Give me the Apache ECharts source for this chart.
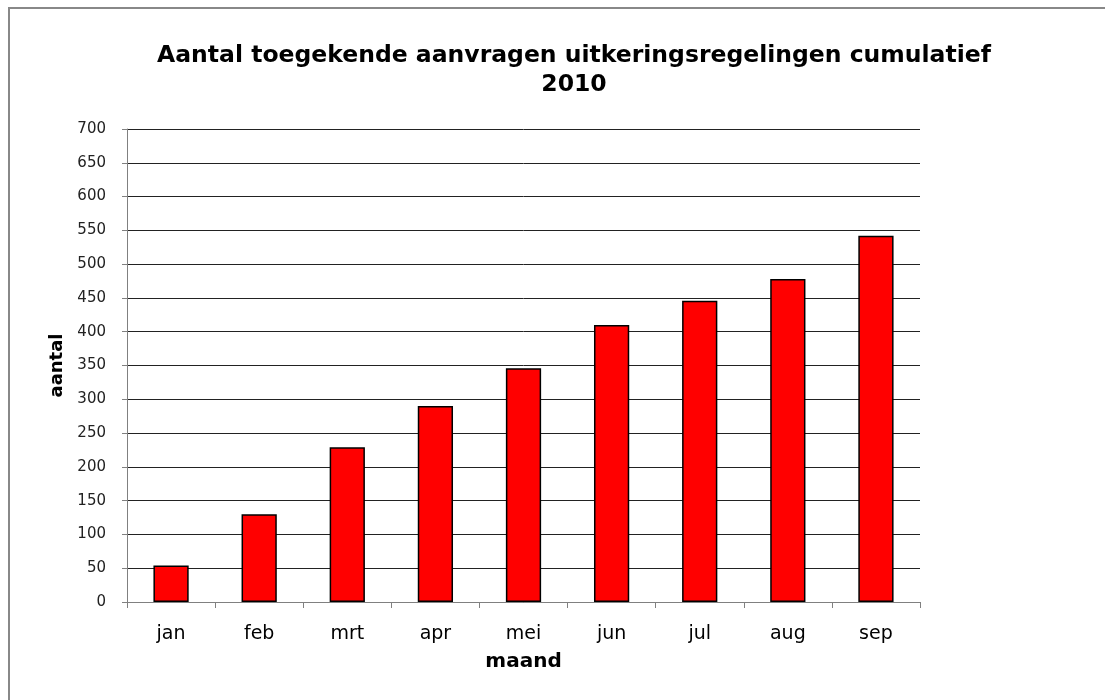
<!DOCTYPE html>
<html>
<head>
<meta charset="utf-8">
<script src="https://cdn.jsdelivr.net/npm/echarts@6/dist/echarts.min.js"></script>
<style>
html,body{margin:0;padding:0;background:#fff;}
#c{width:1105px;height:700px;}
</style>
</head>
<body>
<div id="c"></div>
<script>
const categories = ['jan','feb','mrt','apr','mei','jun','jul','aug','sep'];
const values = [54, 130, 229, 290, 346, 410, 446, 478, 542];
const titleText = 'Aantal toegekende aanvragen uitkeringsregelingen cumulatief\n2010';
const xName = 'maand';
const yName = 'aantal';

const chart = echarts.init(document.getElementById('c'), null, {renderer:'canvas'});
const font = '"DejaVu Sans", Verdana, sans-serif';
chart.setOption({
  animation: false,
  backgroundColor: '#fff',
  graphic: [{
    type: 'rect', z: -1,
    shape: {x: 9, y: 8, width: 1200, height: 800},
    style: {fill: 'none', stroke: '#888', lineWidth: 2}
  }],
  title: {
    text: titleText,
    left: 569, top: 36, textAlign: 'center',
    textStyle: {fontFamily: font, fontSize: 23.5, fontWeight: 'bold', color: '#000', lineHeight: 29}
  },
  grid: {left: 127, right: 185, top: 129, bottom: 98, containLabel: false},
  xAxis: {
    type: 'category', data: categories,
    name: xName, nameLocation: 'middle', nameGap: 50,
    nameTextStyle: {fontFamily: font, fontSize: 20, fontWeight: 'bold', color: '#000'},
    axisLine: {lineStyle: {color: '#808080', width: 1}},
    axisTick: {show: true, inside: false, length: 6, lineStyle: {color: '#808080'}},
    axisLabel: {fontFamily: font, fontSize: 19, color: '#000', margin: 23},
    splitLine: {show: false}
  },
  yAxis: {
    type: 'value', min: 0, max: 700, interval: 50,
    name: yName, nameLocation: 'middle', nameGap: 54, nameRotate: 90,
    nameTextStyle: {fontFamily: font, fontSize: 18, fontWeight: 'bold', color: '#000'},
    axisLine: {show: true, lineStyle: {color: '#808080', width: 1}},
    axisTick: {show: true, inside: false, length: 5, lineStyle: {color: '#808080'}},
    axisLabel: {fontFamily: font, fontSize: 15, color: '#222', margin: 21},
    splitLine: {show: true, lineStyle: {color: '#222', width: 1}}
  },
  series: [{
    type: 'bar', data: values, barWidth: '40%',
    itemStyle: {color: '#ff0000', borderColor: '#000', borderWidth: 1.5}
  }]
});
</script>
</body>
</html>
